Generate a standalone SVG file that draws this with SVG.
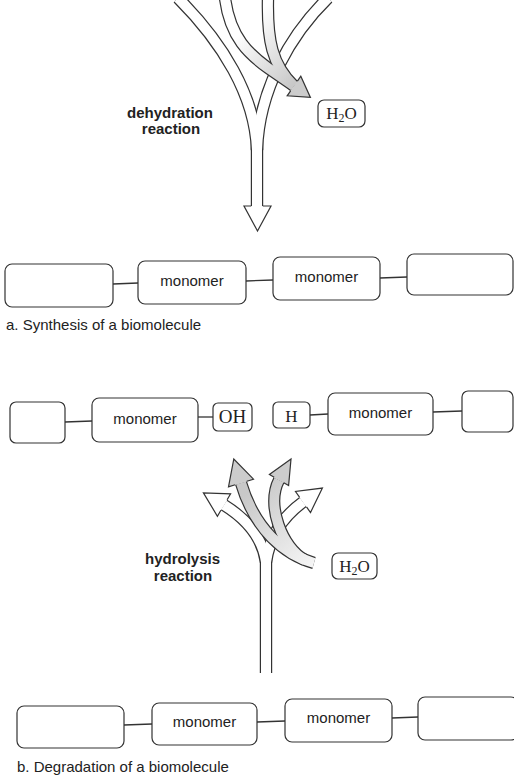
<svg xmlns="http://www.w3.org/2000/svg" width="514" height="776" viewBox="0 0 514 776">
<defs>
<style>
.box{fill:#fff;stroke:#333;stroke-width:1.2}
.bond{stroke:#333;stroke-width:1.3;fill:none}
.lbl{font-family:"Liberation Sans",Arial,sans-serif;font-size:15px;fill:#222;text-anchor:middle}
.chem{font-family:"Liberation Serif","Times New Roman",serif;fill:#222;text-anchor:middle}
.cap{font-family:"Liberation Sans",Arial,sans-serif;font-size:15px;fill:#222}
.rx{font-family:"Liberation Sans",Arial,sans-serif;font-size:15px;font-weight:bold;fill:#222;text-anchor:middle}
.edge{fill:none;stroke:#333;stroke-width:12.4}
.core{fill:none;stroke:#fff;stroke-width:10}
.head{fill:#fff;stroke:#333;stroke-width:1.2;stroke-linejoin:miter}
.ghead{fill:#cccccc;stroke:#333;stroke-width:1.2;stroke-linejoin:miter}
</style>
<linearGradient id="gA" gradientUnits="userSpaceOnUse" x1="238" y1="35" x2="292" y2="86">
<stop offset="0" stop-color="#ffffff"/><stop offset="1" stop-color="#c8c8c8"/>
</linearGradient>
<linearGradient id="gB" gradientUnits="userSpaceOnUse" x1="314" y1="566" x2="250" y2="490">
<stop offset="0" stop-color="#f6f6f6"/><stop offset="1" stop-color="#c8c8c8"/>
</linearGradient>
</defs>
<rect width="514" height="776" fill="#fff"/>

<!-- connectors -->
<g id="connectors">
<g id="dehydration-arrows">
<path class="edge" d="M178,-2 C222,42 255,95 257,150"/>
<path class="edge" d="M328,-2 C290,35 259,90 257,150"/>
<path class="edge" d="M257,140 L257,206"/>
<path class="core" d="M178,-2 C222,42 255,95 257,150"/>
<path class="core" d="M328,-2 C290,35 259,90 257,150"/>
<path class="core" d="M257,140 L257,207"/>
<path class="head" d="M251.2,206 L244,206 L257.5,231 L271,206 L262.8,206"/>
<path class="edge" d="M225,-2 C230,38 250,55 268,68 L294,86"/>
<path class="edge" d="M268,-2 C267,40 272,65 294,86"/>
<path d="M225,-2 C230,38 250,55 268,68 L294,86" fill="none" stroke="url(#gA)" stroke-width="10"/>
<path d="M268,-2 C267,40 272,65 294,86" fill="none" stroke="url(#gA)" stroke-width="10"/>
<path class="ghead" d="M290.6,90.9 L287.2,95.8 L310.4,97.4 L300.8,76.2 L297.4,81.1"/>
</g>
<g id="hydrolysis-arrows">
<path class="edge" d="M266,673 L266,548"/>
<path class="edge" d="M266,562 C262,535 245,518 224,505"/>
<path class="edge" d="M266,562 C270,535 285,515 303,502"/>
<path class="core" d="M266,673 L266,548"/>
<path class="core" d="M266,562 C262,535 245,518 224,505"/>
<path class="core" d="M266,562 C270,535 285,515 303,502"/>
<path class="head" d="M227.1,499.8 L230.6,493.8 L203.4,492.8 L217.4,516.2 L220.9,510.2"/>
<path class="head" d="M299.5,497.1 L295.5,491.5 L322.4,488.1 L310.5,512.5 L306.5,506.9"/>
<path class="edge" d="M305,560 C282,548 266,505 279,480"/>
<path class="edge" d="M314,563 C285,555 255,530 241,483"/>
<path d="M305,560 C282,548 266,505 279,480" fill="none" stroke="url(#gB)" stroke-width="10"/>
<path d="M314,563 C285,555 255,530 241,483" fill="none" stroke="url(#gB)" stroke-width="10"/>
<path class="ghead" d="M246.8,481.3 L253.5,479.2 L233.8,459 L228.5,486.8 L235.2,484.7"/>
<path class="ghead" d="M274.2,477.3 L269.4,474.5 L291,459.1 L288.6,485.5 L283.8,482.8"/>
</g>
<g id="bonds">
<line class="bond" x1="113" y1="284" x2="138" y2="283"/>
<line class="bond" x1="246" y1="281" x2="273" y2="280"/>
<line class="bond" x1="380" y1="278" x2="407" y2="277"/>
<line class="bond" x1="65" y1="422" x2="92" y2="421"/>
<line class="bond" x1="198" y1="417" x2="213" y2="417"/>
<line class="bond" x1="310" y1="415" x2="328" y2="414"/>
<line class="bond" x1="433" y1="412" x2="462" y2="411"/>
<line class="bond" x1="124" y1="725" x2="152" y2="724"/>
<line class="bond" x1="257" y1="722" x2="285" y2="721"/>
<line class="bond" x1="392" y1="718" x2="418" y2="717"/>
</g>
</g>

<!-- labels -->
<text class="rx" x="170" y="118">dehydration</text>
<text class="rx" x="171" y="134">reaction</text>
<text class="rx" x="182.5" y="564">hydrolysis</text>
<text class="rx" x="183" y="581">reaction</text>

<g id="h2o-top">
<rect class="box" x="318" y="100" width="47" height="27" rx="6"/>
<text class="chem" x="341.5" y="119" font-size="17">H<tspan font-size="12" dy="3">2</tspan><tspan dy="-3">O</tspan></text>
</g>
<g id="h2o-bottom">
<rect class="box" x="332" y="553" width="45" height="26" rx="6"/>
<text class="chem" x="354.5" y="572" font-size="17">H<tspan font-size="12" dy="3">2</tspan><tspan dy="-3">O</tspan></text>
</g>

<!-- row a -->
<g id="a-box1"><rect class="box" x="5" y="264" width="108" height="43" rx="7"/></g>
<g id="a-box2"><rect class="box" x="138" y="261" width="108" height="43" rx="7"/><text class="lbl" x="192" y="286">monomer</text></g>
<g id="a-box3"><rect class="box" x="273" y="257" width="107" height="43" rx="7"/><text class="lbl" x="326.5" y="282">monomer</text></g>
<g id="a-box4"><rect class="box" x="407" y="254" width="106" height="41" rx="7"/></g>
<text class="cap" x="6" y="330">a. Synthesis of a biomolecule</text>

<!-- row b top -->
<g id="b-box1"><rect class="box" x="10" y="402" width="55" height="41" rx="6"/></g>
<g id="b-box2"><rect class="box" x="92" y="398" width="106" height="44" rx="7"/><text class="lbl" x="145" y="424">monomer</text></g>
<g id="oh"><rect class="box" x="213" y="403" width="39" height="28" rx="5"/><text class="chem" x="232.5" y="423" font-size="19">OH</text></g>
<g id="h"><rect class="box" x="273" y="402" width="37" height="26" rx="5"/><text class="chem" x="291.5" y="421.5" font-size="17">H</text></g>
<g id="b-box3"><rect class="box" x="328" y="393" width="105" height="42" rx="7"/><text class="lbl" x="380.5" y="418">monomer</text></g>
<g id="b-box4"><rect class="box" x="462" y="391" width="51" height="41" rx="6"/></g>

<!-- row b bottom -->
<g id="c-box1"><rect class="box" x="17" y="706" width="107" height="42" rx="7"/></g>
<g id="c-box2"><rect class="box" x="152" y="703" width="105" height="42" rx="7"/><text class="lbl" x="204.5" y="727">monomer</text></g>
<g id="c-box3"><rect class="box" x="285" y="699" width="107" height="43" rx="7"/><text class="lbl" x="338.5" y="723">monomer</text></g>
<g id="c-box4"><rect class="box" x="418" y="697" width="100" height="43" rx="7"/></g>
<text class="cap" x="17" y="772">b. Degradation of a biomolecule</text>
</svg>
